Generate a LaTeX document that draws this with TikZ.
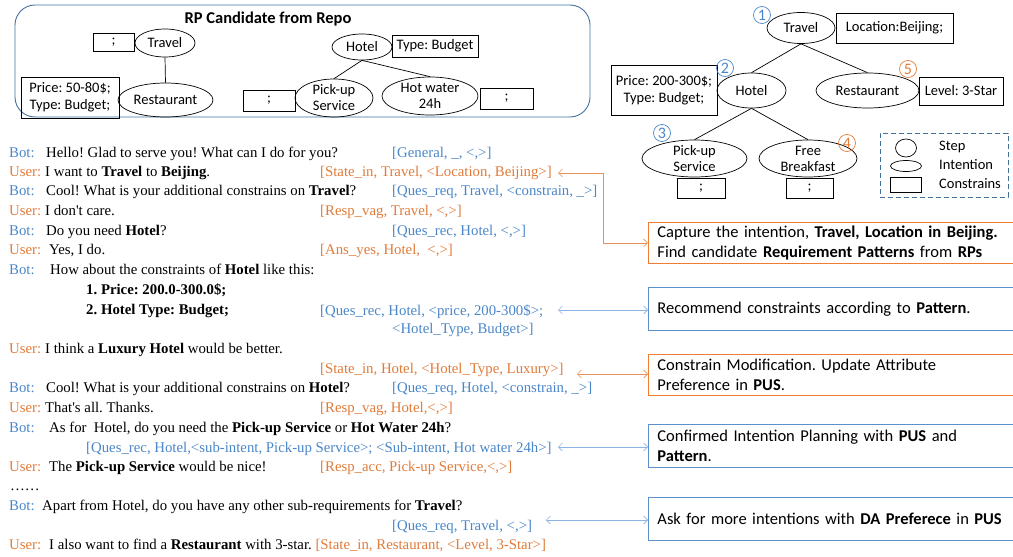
\documentclass[tikz,border=0pt]{standalone}
\usepackage{fontspec}
\setmainfont{Liberation Serif}
\newfontfamily\carl{Carlito}
\usetikzlibrary{arrows.meta,shapes.geometric}
\frenchspacing
\definecolor{bblue}{HTML}{4A86C8}
\definecolor{oorange}{HTML}{E07B39}
\definecolor{rpline}{HTML}{41719C}
\definecolor{annblue}{HTML}{5B8FD0}
\definecolor{annor}{HTML}{ED7D31}
\definecolor{arrblue}{HTML}{8DB4E2}
\definecolor{arror}{HTML}{E8915A}
\newcommand{\dlg}{\frenchspacing\fontsize{14.8}{17}\selectfont}
\newcommand{\treef}{\carl\fontsize{14.5}{16}\selectfont}
\newcommand{\boxf}{\carl\fontsize{14.5}{17}\selectfont}
\newcommand{\annf}{\frenchspacing\carl\fontsize{16.5}{20}\selectfont}
\newcommand{\numf}{\carl\fontsize{16}{16}\selectfont}
\begin{document}
\begin{tikzpicture}[x=1pt,y=-1pt,
  ell/.style={ellipse, draw, inner sep=0pt, font=\treef, align=center, line width=0.7pt},
  cbox/.style={rectangle, draw, inner sep=0pt, font=\boxf, align=center, line width=0.7pt},
  num/.style={circle, draw, inner sep=0pt, minimum size=17pt, font=\numf, line width=0.7pt},
  dl/.style={anchor=base west, inner sep=0pt, font=\dlg},
  lg/.style={anchor=base west, inner sep=0pt, font=\treef},
  ann/.style={rectangle, draw, anchor=north west, inner xsep=9pt, inner ysep=0pt,
    text width=352pt, align=left, font=\annf, minimum height=41pt, line width=0.9pt},
  arr/.style={{Straight Barb[length=4pt,width=8pt]}-{Straight Barb[length=4pt,width=8pt]}, line width=0.6pt},
  edge/.style={draw, line width=0.7pt}]
\useasboundingbox (0,0) rectangle (1013,557);

% ---------- RP candidate box ----------
\node (rp) [draw=rpline, rounded corners=20pt, line width=0.9pt, minimum width=575pt, minimum height=112pt, inner sep=0pt] at (302.5,61) {};
\node (rptitle) [font=\carl\bfseries\fontsize{16.5}{18}\selectfont, anchor=base, inner sep=0pt] at (268,23) {RP Candidate from Repo};

\node (lsemi) [cbox, minimum width=41pt, minimum height=18pt] at (113.5,42) {;};
\node (ltravel) [ell, minimum width=60pt, minimum height=28pt] at (165,43) {Travel};
\node (lrest) [ell, minimum width=95pt, minimum height=34pt] at (165.5,100) {Restaurant};
\node (lprice) [cbox, minimum width=98pt, minimum height=41pt] at (70,97.5) {Price: 50-80\$;\\Type: Budget;};
\draw[edge] (ltravel.south) -- (lrest.north);

\node (rhotel) [ell, minimum width=60pt, minimum height=26pt] at (362,47) {Hotel};
\node (rtype) [cbox, minimum width=86pt, minimum height=22pt] at (435,46) {Type: Budget};
\node (rpick) [ell, minimum width=78pt, minimum height=38pt] at (334,98) {Pick-up\\Service};
\node (rhot) [ell, minimum width=96pt, minimum height=38pt] at (430,96) {Hot water\\24h};
\node (rsemi1) [cbox, minimum width=52pt, minimum height=21pt] at (269,100.5) {;};
\node (rsemi2) [cbox, minimum width=53pt, minimum height=21pt] at (506.5,98.5) {;};
\draw[edge] (rhotel.south) -- (rpick.north);
\draw[edge] (rhotel.south) -- (rhot.north);

% ---------- Top right tree ----------
\node (ttravel) [ell, minimum width=68pt, minimum height=31pt] at (801,28) {Travel};
\node (tloc) [cbox, minimum width=117pt, minimum height=30pt] at (894.5,28) {Location:Beijing;};
\node (thotel) [ell, minimum width=69pt, minimum height=35pt] at (751.5,90.5) {Hotel};
\node (tprice) [cbox, minimum width=106pt, minimum height=50pt] at (664,90) {Price: 200-300\$;\\Type: Budget;};
\node (trest) [ell, minimum width=103pt, minimum height=35pt] at (867.5,90.5) {Restaurant};
\node (tlevel) [cbox, minimum width=84pt, minimum height=28pt] at (961,91) {Level: 3-Star};
\node (tpick) [ell, minimum width=105pt, minimum height=37pt] at (694.5,158.5) {Pick-up\\Service};
\node (tsemi1) [cbox, minimum width=48pt, minimum height=20pt] at (701,188) {;};
\node (tfree) [ell, minimum width=98pt, minimum height=37pt] at (808,158.5) {Free\\Breakfast};
\node (tsemi2) [cbox, minimum width=47pt, minimum height=20pt] at (809.5,188) {;};
\draw[edge] (ttravel.south) -- (thotel.north);
\draw[edge] (ttravel.south) -- (trest.north);
\draw[edge] (thotel.south) -- (tpick.north);
\draw[edge] (thotel.south) -- (tfree.north);

\node (n1) [num, draw=bblue, text=bblue] at (762,15) {1};
\node (n2) [num, draw=bblue, text=bblue] at (725,68) {2};
\node (n3) [num, draw=bblue, text=bblue] at (662,133) {3};
\node (n4) [num, draw=oorange, text=oorange] at (847,143) {4};
\node (n5) [num, draw=oorange, text=oorange] at (908,69) {5};

% legend
\node (legend) [draw=rpline, dash pattern=on 5pt off 3pt, line width=0.8pt, minimum width=128pt, minimum height=64pt, inner sep=0pt] at (944,165) {};
\node (lgstep) [ellipse, draw, line width=0.7pt, inner sep=0pt, minimum width=21pt, minimum height=18pt] at (906,148) {};
\node (lgint) [ellipse, draw, line width=0.7pt, inner sep=0pt, minimum width=31pt, minimum height=11pt] at (906,166) {};
\node (lgcon) [rectangle, draw, line width=0.7pt, inner sep=0pt, minimum width=31pt, minimum height=15pt] at (906,185) {};
\node (lgt1) [lg] at (939,150) {Step};
\node (lgt2) [lg] at (939,169) {Intention};
\node (lgt3) [lg] at (939,188) {Constrains};

% ---------- Dialogue ----------
\foreach \y [count=\i] in {157,195,235,274,392,432,510}
  \node (bot\i) [dl, text=bblue] at (9,\y) {Bot:};
\foreach \y [count=\i] in {176,215,254,353,412,471,549}
  \node (usr\i) [dl, text=oorange] at (9,\y) {User:};

\node (u1) [dl] at (46,157) {Hello! Glad to serve you! What can I do for you?};
\node (u2) [dl] at (45,176) {I want to \textbf{Travel} to \textbf{Beijing}.};
\node (u3) [dl] at (46,195) {Cool! What is your additional constrains on \textbf{Travel}?};
\node (u4) [dl] at (45,215) {I don\textquotesingle t care.};
\node (u5) [dl] at (46,235) {Do you need \textbf{Hotel}?};
\node (u6) [dl] at (49,254) {Yes, I do.};
\node (u7) [dl] at (50,274) {How about the constraints of \textbf{Hotel} like this:};
\node (u8) [dl] at (86,294) {\textbf{1. Price: 200.0-300.0\$;}};
\node (u9) [dl] at (86,314) {\textbf{2. Hotel Type: Budget;}};
\node (u10) [dl] at (45,353) {I think a \textbf{Luxury Hotel} would be better.};
\node (u11) [dl] at (46,392) {Cool! What is your additional constrains on \textbf{Hotel}?};
\node (u12) [dl] at (45,412) {That\textquotesingle s all. Thanks.};
\node (u13) [dl] at (49,432) {As for\ \ Hotel, do you need the \textbf{Pick-up Service} or\ \textbf{Hot Water 24h}?};
\node (u14) [dl] at (49,471) {The \textbf{Pick-up Service} would be nice!};
\node (u15) [dl] at (10,490) {……};
\node (u16) [dl] at (42,510) {Apart from Hotel, do you have any other sub-requirements for \textbf{Travel}?};
\node (u17) [dl] at (49,549) {I also want to find a \textbf{Restaurant} with 3-star. {\color{oorange}[State\_in, Restaurant, <Level, 3-Star>]}};

\node (t1) [dl, text=bblue] at (392,157) {[General, \_, <,>]};
\node (t2) [dl, text=oorange] at (320,176) {[State\_in, Travel, <Location, Beijing>]};
\node (t3) [dl, text=bblue] at (392,195) {[Ques\_req, Travel, <constrain, \_>]};
\node (t4) [dl, text=oorange] at (320,215) {[Resp\_vag, Travel, <,>]};
\node (t5) [dl, text=bblue] at (392,235) {[Ques\_rec, Hotel, <,>]};
\node (t6) [dl, text=oorange] at (320,254) {[Ans\_yes, Hotel,\ \ <,>]};
\node (t7) [dl, text=bblue] at (320,315) {[Ques\_rec, Hotel, <price, 200-300\$>;};
\node (t7b) [dl, text=bblue] at (392,333) {<Hotel\_Type, Budget>]};
\node (t8) [dl, text=oorange] at (320,373) {[State\_in, Hotel, <Hotel\_Type, Luxury>]};
\node (t9) [dl, text=bblue] at (392,392) {[Ques\_req, Hotel, <constrain, \_>]};
\node (t10) [dl, text=oorange] at (320,412) {[Resp\_vag, Hotel,<,>]};
\node (t11) [dl, text=bblue] at (86,452) {[Ques\_rec, Hotel,<sub-intent, Pick-up Service>; <Sub-intent, Hot water 24h>]};
\node (t12) [dl, text=oorange] at (320,471) {[Resp\_acc, Pick-up Service,<,>]};
\node (t13) [dl, text=bblue] at (392,530) {[Ques\_req, Travel, <,>]};

% ---------- Annotation boxes ----------
\node (ann1) [ann, draw=annor] at (648,222) {Capture the intention, \textbf{Travel, Location in Beijing.}\\Find candidate \textbf{Requirement Patterns} from \textbf{RPs}};
\node (ann2) [ann, draw=annblue, minimum height=43pt] at (648,287) {Recommend constraints according to \textbf{Pattern}.};
\node (ann3) [ann, draw=annor] at (648,354) {Constrain Modification. Update Attribute\\Preference in \textbf{PUS}.};
\node (ann4) [ann, draw=annblue, minimum height=43pt] at (648,424) {Confirmed Intention Planning with \textbf{PUS} and\\\textbf{Pattern}.};
\node (ann5) [ann, draw=annblue, minimum height=43pt] at (648,497) {Ask for more intentions with \textbf{DA Preferece} in \textbf{PUS}};

% ---------- Arrows ----------
\coordinate (a1) at (558,173);
\coordinate (a1k) at (603,173);
\coordinate (a2) at (558,310);
\coordinate (a3) at (577,374);
\coordinate (a4) at (558,447);
\coordinate (a5) at (546,520);
\draw[arr, arror] (a1) -- (a1k) |- (ann1.west);
\draw[arr, arrblue] (a2) -- (a2 -| ann2.west);
\draw[arr, arror] (a3) -- (a3 -| ann3.west);
\draw[arr, arrblue] (a4) -- (a4 -| ann4.west);
\draw[arr, arrblue] (a5) -- (a5 -| ann5.west);
\end{tikzpicture}
\end{document}
